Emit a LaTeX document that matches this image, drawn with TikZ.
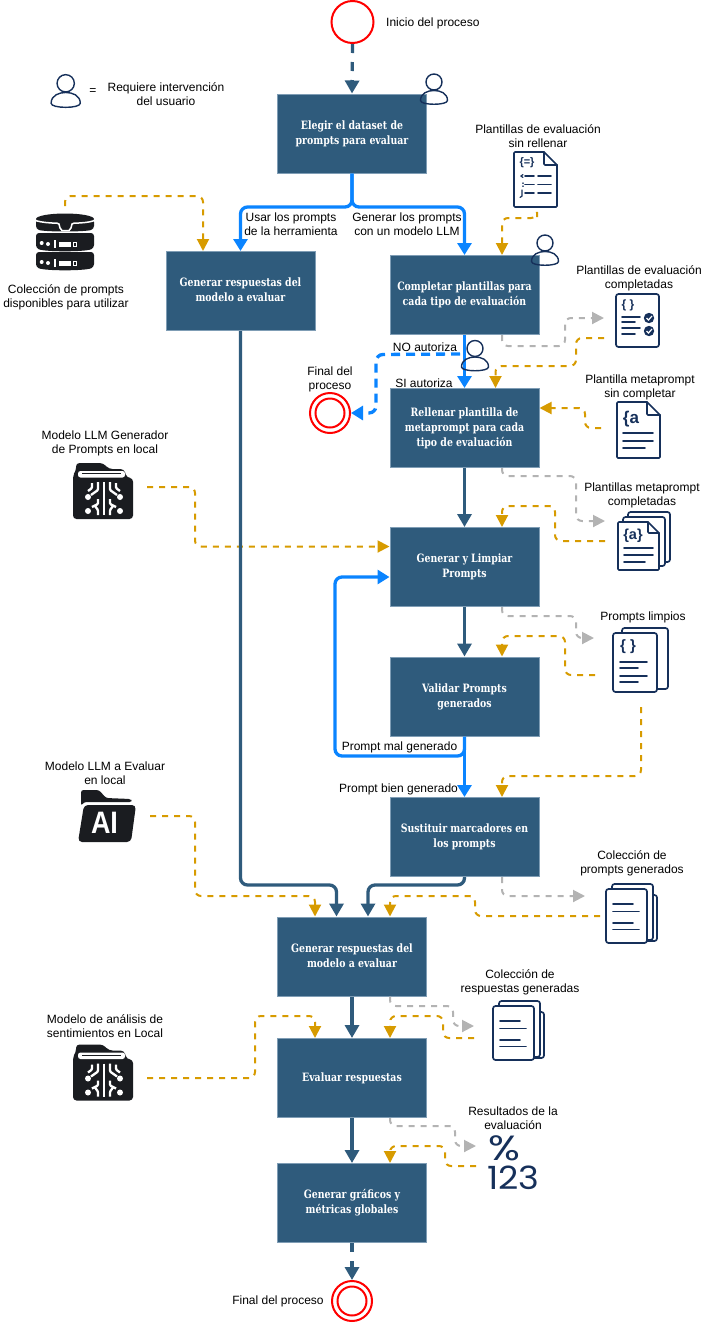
\documentclass[tikz,border=0pt]{standalone}
\usepackage{fontspec}
\setmainfont{Liberation Sans}
\newfontfamily\boxfont[FakeStretch=0.905]{DejaVu Serif Condensed}
\newfontfamily\numfont{Poppins}
\usetikzlibrary{arrows.meta,calc}
\definecolor{boxfill}{HTML}{2F5B7C}
\definecolor{boxline}{HTML}{7F9DB5}
\definecolor{flowblue}{HTML}{0A84FF}
\definecolor{flowor}{HTML}{D79B00}
\definecolor{flowgr}{HTML}{B3B3B3}
\definecolor{navy}{HTML}{16305A}
\definecolor{darkicon}{HTML}{1A1C20}
\newcommand{\lowered}[1]{\raisebox{-2.5pt}{\begin{tabular}{@{}c@{}}#1\end{tabular}}}
\tikzset{
  procbox/.style={rectangle,draw=boxline,fill=boxfill,line width=1pt,minimum width=149pt,minimum height=79pt,inner sep=0pt,
    text=white,font=\boxfont\bfseries\fontsize{11.5}{15}\selectfont},
  lab/.style={align=center,inner sep=0pt,font=\fontsize{12}{14}\selectfont,text=black,yshift=-1pt},
  darkflow/.style={draw=boxfill,line width=3.3pt,rounded corners=7pt,-{Triangle[length=13pt,width=14pt]}},
  darkdash/.style={darkflow,dash pattern=on 9pt off 9pt},
  blueflow/.style={draw=flowblue,fill=none,line width=3.3pt,rounded corners=7pt,-{Triangle[length=12pt,width=14pt]}},
  bluedash/.style={blueflow,dash pattern=on 9pt off 6pt},
  orflow/.style={draw=flowor,line width=2pt,dash pattern=on 6pt off 6pt,rounded corners=6pt,-{Triangle[length=12pt,width=12pt]}},
  grflow/.style={draw=flowgr,line width=2pt,dash pattern=on 6pt off 6pt,rounded corners=6pt,-{Triangle[length=12pt,width=12pt]}},
  redring/.style={draw=red,line width=2pt,fill=white,circle,inner sep=0pt},
  iconline/.style={draw=navy,line width=1.7pt,line cap=round,line join=round,fill=white},
  iconrule/.style={draw=navy,line width=1.7pt,line cap=round},
  icontext/.style={inner sep=0pt,text=navy},
}
\newcommand{\usericon}[3]{%
 \begin{scope}[shift={(#1,#2)},scale=#3]
  \draw[draw=navy,line width=1.4pt] (0,0) circle[radius=8];
  \draw[draw=navy,line width=1.4pt] (-13.5,18.5) .. controls (-13.5,11) and (-6,8.5) .. (0,8.5) .. controls (6,8.5) and (13.5,11) .. (13.5,18.5) .. controls (13.5,23.5) and (-13.5,23.5) .. (-13.5,18.5) -- cycle;
 \end{scope}}
% x0 y0 x1 y1 fold
\newcommand{\foldpage}[5]{%
  \draw[iconline] (#1+1,#2) -- (#3-#5,#2) -- (#3,#2+#5) -- (#3,#4-1) -- (#3-1,#4) -- (#1+1,#4) -- (#1,#4-1) -- (#1,#2+1) -- cycle;
  \draw[iconline,fill=none] (#3-#5,#2) -- (#3-#5,#2+#5-1) -- (#3-#5+1,#2+#5) -- (#3,#2+#5);}
\newcommand{\flatpage}[4]{\draw[iconline,rounded corners=2.5pt] (#1,#2) rectangle (#3,#4);}
% three-page stack with four rules
\newcommand{\pagestack}[2]{%
 \begin{scope}[shift={(#1,#2)}]
  \flatpage{10}{6}{51}{52}
  \flatpage{6}{-5}{47}{51}
  \flatpage{0}{0}{41}{54}
  \draw[iconrule] (7,15) -- (27,15) (7,22.5) -- (33,22.5) (7,34) -- (27,34) (7,40.5) -- (33,40.5);
 \end{scope}}
\newcommand{\chipfolder}[2]{%
 \begin{scope}[shift={(#1,#2)}]
  \fill[darkicon,rounded corners=3.5pt] (3,0) -- (30,0) -- (36,6) -- (51,6) -- (54,15) -- (60,15) -- (60,56) -- (0,56) -- (0,12) -- (3,8) -- cycle;
  \fill[white,rounded corners=2.5pt] (5,8) rectangle (52,14.5);
  \draw[darkicon,line width=1.3pt] (9,10.8) -- (48,10.8);
  \draw[white,line width=2.6pt] (31,19) -- (31,52);
  \foreach \s in {-1,1}{
    \draw[white,line width=2.3pt,line join=round,rounded corners=1pt] (31+\s*6,19) -- (31+\s*6,27) -- (31+\s*13,32);
    \draw[white,line width=2.3pt,line join=round,rounded corners=1pt] (31+\s*12,20) -- (31+\s*12,25) -- (31+\s*16,28);
    \draw[white,line width=2.3pt,line join=round,rounded corners=1pt] (31+\s*6,36) -- (31+\s*6,41) -- (31+\s*12,44);
    \draw[white,line width=2.3pt,line join=round,rounded corners=1pt] (31+\s*6,52) -- (31+\s*6,47) -- (31+\s*9,43);
    \fill[white] (31+\s*16,34) circle[radius=3];
    \fill[white] (31+\s*16,48) circle[radius=3];
  }
 \end{scope}}
\begin{document}
\begin{tikzpicture}[x=1pt,y=-1pt]
\useasboundingbox (0,0) rectangle (704,1323);
% process boxes
\node[procbox] (B1) at (352,133.5) {\lowered{Elegir el dataset de\\prompts para evaluar}};
\node[procbox] (B2) at (240.5,291) {\lowered{Generar respuestas del\\modelo a evaluar}};
\node[procbox] (B3) at (464.5,295) {\lowered{Completar plantillas para\\cada tipo de evaluación}};
\node[procbox] (B4) at (464.5,428) {\lowered{Rellenar plantilla de\\metaprompt para cada\\tipo de evaluación}};
\node[procbox] (B5) at (464.5,567) {\lowered{Generar y Limpiar\\Prompts}};
\node[procbox] (B6) at (464.5,696.5) {\lowered{Validar Prompts\\generados}};
\node[procbox] (B7) at (464.5,837) {\lowered{Sustituir marcadores en\\los prompts}};
\node[procbox] (B8) at (352,956.5) {\lowered{Generar respuestas del\\modelo a evaluar}};
\node[procbox] (B9) at (352,1078) {\lowered{Evaluar respuestas}};
\node[procbox] (B10) at (352,1203) {\lowered{Generar gráficos y\\métricas globales}};
% events
\node[redring,minimum size=42pt] (S) at (352.5,22) {};
\node[redring,minimum size=40pt] (E1) at (330,413) {};
\node[redring,minimum size=29pt] (E1i) at (330,413) {};
\node[redring,minimum size=40pt] (E2) at (352,1301) {};
\node[redring,minimum size=29pt] (E2i) at (352,1301) {};
% free ends at the icons
\coordinate (dbOut) at (65,206);
\coordinate (tplOut) at (537,217);
\coordinate (cmpIn) at (604,318);
\coordinate (cmpOut) at (604,338);
\coordinate (metaOut) at (601,428);
\coordinate (mcIn) at (605,521);
\coordinate (mcOut) at (605,541);
\coordinate (clIn) at (594,638);
\coordinate (clOut) at (595,675);
\coordinate (clOutB) at (641,707);
\coordinate (cpIn) at (585,896);
\coordinate (cpOut) at (600,916);
\coordinate (crIn) at (474,1026);
\coordinate (crOut) at (474,1038);
\coordinate (rsIn) at (476,1146);
\coordinate (rsOut) at (476,1166);
\coordinate (llmOut) at (147,487);
\coordinate (aiOut) at (150,816);
\coordinate (senOut) at (147,1078);
\coordinate (noStart) at (460,354);
% orange flows
\draw[orflow] (dbOut) -- (65,196) -- (203,196) -- ([xshift=-37.5pt]B2.north);
\draw[orflow] (tplOut) -- (537,218) -- (502,218) -- ([xshift=37.5pt]B3.north);
\draw[orflow] (cmpOut) -- (576,338) -- (576,366) -- (495.5,366) -- ([xshift=31pt]B4.north);
\draw[orflow] (metaOut) -- (585,428) -- (585,408) -- ([yshift=20pt]B4.east);
\draw[orflow] (llmOut) -- (195,487) -- (195,546.5) -- ([yshift=20.5pt]B5.west);
\draw[orflow] (mcOut) -- (555,541) -- (555,506) -- (502,506) -- ([xshift=37.5pt]B5.north);
\draw[orflow] (clOut) -- (565,675) -- (565,636) -- (502,636) -- ([xshift=37.5pt]B6.north);
\draw[orflow] (clOutB) -- (641,776) -- (502,776) -- ([xshift=37.5pt]B7.north);
\draw[orflow] (aiOut) -- (195,816) -- (195,896) -- (315,896) -- ([xshift=-37pt]B8.north);
\draw[orflow] (cpOut) -- (475,916) -- (475,896) -- (390,896) -- ([xshift=38pt]B8.north);
\draw[orflow] (crOut) -- (443,1038) -- (443,1016) -- (390,1016) -- ([xshift=38pt]B9.north);
\draw[orflow] (senOut) -- (255,1078) -- (255,1016) -- (315,1016) -- ([xshift=-37pt]B9.north);
\draw[orflow] (rsOut) -- (445,1166) -- (445,1146) -- (390,1146) -- ([xshift=38pt]B10.north);
% grey flows
\draw[grflow] ([xshift=37.5pt]B3.south) -- (502,346) -- (565,346) -- (565,318) -- (cmpIn);
\draw[grflow] ([xshift=37.5pt]B4.south) -- (502,476) -- (576,476) -- (576,521) -- (mcIn);
\draw[grflow] ([xshift=37.5pt]B5.south) -- (502,616) -- (576,616) -- (576,638) -- (clIn);
\draw[grflow] ([xshift=37.5pt]B7.south) -- (502,896) -- (cpIn);
\draw[grflow] ([xshift=38pt]B8.south) -- (390,1006) -- (453,1006) -- (453,1026) -- (crIn);
\draw[grflow] ([xshift=38pt]B9.south) -- (390,1126) -- (455,1126) -- (455,1146) -- (rsIn);
% dark flows
\draw[darkdash] (S.south) -- (B1.north);
\draw[darkdash] (B10.south) -- (E2.north);
\draw[darkflow] (B4.south) -- (B5.north);
\draw[darkflow] (B5.south) -- (B6.north);
\draw[darkflow] (B2.south) -- (240.5,885) -- (336.5,885) -- ([xshift=-15.5pt]B8.north);
\draw[darkflow] (B7.south) -- (464.5,885) -- (368,885) -- ([xshift=16pt]B8.north);
\draw[darkflow] (B8.south) -- (B9.north);
\draw[darkflow] (B9.south) -- (B10.north);
% blue flows
\draw[blueflow] (B1.south) -- (352,207) -- (240.5,207) -- (B2.north);
\draw[blueflow] (B1.south) -- (352,207) -- (464.5,207) -- (B3.north);
\draw[blueflow] (B3.south) -- (B4.north);
\draw[blueflow] (B6.south) -- (B7.north);
\draw[blueflow] (B6.south) -- (464.5,756) -- (335,756) -- (335,577) -- ([yshift=-10pt]B5.west);
\draw[bluedash] (noStart) -- (376,354.5) -- (376,413) -- (E1.east);
% labels
\node[lab,anchor=west] (tS) at (386,22) {Inicio del proceso};
\node[lab] (tEq) at (93,91) {=};
\node[lab] (tReq) at (166,93) {Requiere intervención\\del usuario};
\node[lab] (tDB) at (66,296) {Colección de prompts\\disponibles para utilizar};
\node[lab] (tA) at (291,223) {Usar los prompts\\de la herramienta};
\node[lab] (tB) at (407,223) {Generar los prompts\\con un modelo LLM};
\node[lab] (tTpl) at (538,135) {Plantillas de evaluación\\sin rellenar};
\node[lab] (tCmp) at (639,277) {Plantillas de evaluación\\completadas};
\node[lab] (tNo) at (425,346) {NO autoriza};
\node[lab] (tSi) at (424,382) {SI autoriza};
\node[lab] (tE1) at (330,378) {Final del\\proceso};
\node[lab] (tMeta) at (640,386) {Plantilla metaprompt\\sin completar};
\node[lab] (tMC) at (642,494) {Plantillas metaprompt\\completadas};
\node[lab] (tLLM) at (105,442) {Modelo LLM Generador\\de Prompts en local};
\node[lab] (tCL) at (643,616) {Prompts limpios};
\node[lab] (tMal) at (399.5,746.5) {Prompt mal generado};
\node[lab] (tBien) at (398.5,788) {Prompt bien generado};
\node[lab] (tAI) at (105,772) {Modelo LLM a Evaluar\\en local};
\node[lab] (tCP) at (632,862) {Colección de\\prompts generados};
\node[lab] (tCR) at (520,981) {Colección de\\respuestas generadas};
\node[lab] (tSen) at (105,1025) {Modelo de análisis de\\sentimientos en Local};
\node[lab] (tRes) at (513,1117) {Resultados de la\\evaluación};
\node[lab] (tE2) at (278,1300) {Final del proceso};
% user icons
\usericon{65.7}{83.3}{1.08}
\usericon{434}{82}{1}
\usericon{545}{243}{1}
\usericon{475}{348.5}{1}
% template doc
\foldpage{514}{152}{557}{207}{13}
\node[icontext,font=\bfseries\fontsize{11}{11}\selectfont] (i1) at (527,163) {\{=\}};
\foreach \yy in {176,184.5,193}{
  \draw[iconrule] (525,\yy) -- (534,\yy);
  \draw[iconrule] (538,\yy) -- (551,\yy);}
\draw[iconrule,line width=1.2pt] (523,174.5) -- (521,176) -- (523,177.5);
\draw[iconrule,line width=1.2pt] (523,183) -- (523,183.3) (523,186) -- (523,186.3);
\draw[iconrule,line width=1.2pt] (522,190) -- (522,196) -- (520,197.5);
% completed doc
\flatpage{616}{294}{659}{347}
\node[icontext,font=\bfseries\fontsize{12}{12}\selectfont] (i2) at (628,305) {\{ \}};
\draw[iconrule] (622,317) -- (640,317) (622,322) -- (635,322) (622,328) -- (640,328) (622,334) -- (635,334);
\foreach \yy in {318,331}{
  \fill[navy] (649,\yy) circle[radius=5.2];
  \draw[white,line width=1.2pt] (646.5,\yy) -- (648.5,\yy+2) -- (652,\yy-2);}
% metaprompt doc
\foldpage{617}{402}{660}{458}{13}
\node[icontext,font=\bfseries\fontsize{17}{17}\selectfont] (i3) at (631,419) {\{a};
\draw[iconrule] (623,433) -- (653,433) (623,441) -- (653,441) (623,448) -- (645,448);
% filled metaprompt stack
\flatpage{628}{512}{670}{562}
\flatpage{623}{517}{665}{566}
\foldpage{618}{522}{659}{570}{11}
\node[icontext,font=\bfseries\fontsize{14.5}{15}\selectfont] (i4) at (633,536) {\{a\}};
\draw[iconrule] (624,548) -- (653,548) (624,555) -- (653,555) (624,562) -- (645,562);
% clean prompts stack
\flatpage{622}{628}{668}{689}
\flatpage{613}{633}{657}{692}
\node[icontext,font=\bfseries\fontsize{15}{15}\selectfont] (i5) at (628,647) {\{ \}};
\draw[iconrule] (620,662) -- (647,662) (620,668) -- (638,668) (620,676) -- (647,676) (620,682) -- (638,682);
% generated prompts and answers stacks
\pagestack{606}{889}
\pagestack{493}{1006}
% results
\node[icontext,xscale=1.2,font=\numfont\fontsize{35}{35}\selectfont] (i6) at (504.5,1148.5) {\%};
\node[icontext,xscale=1.1,font=\numfont\fontsize{32}{32}\selectfont] (i7) at (513.5,1178) {123};
% database
\fill[darkicon] (65,219) ellipse[x radius=29,y radius=5.5];
\fill[darkicon,rounded corners=3pt] (36,219) -- (94,219) -- (94,229) .. controls (85,232) and (45,232) .. (36,229) -- cycle;
\draw[white,line width=1.5pt] (36,220.7) .. controls (42,222.5) and (50,223) .. (57,223.2) -- (59,224) -- (60,228) -- (62,230.5) -- (69,230.5) -- (71,228) -- (72,224) -- (74,223.2) .. controls (81,223) and (89,222.5) .. (94,220.7);
\foreach \yy in {233,252}{
  \fill[darkicon,rounded corners=3pt] (36,\yy) -- (94,\yy) -- (94,\yy+15) .. controls (85,\yy+19) and (45,\yy+19) .. (36,\yy+15) -- cycle;
  \fill[white] (41.7,\yy+10) circle[radius=2] (48,\yy+11) circle[radius=2];
  \fill[white] (54,\yy+7) rectangle (56,\yy+15);
  \fill[white] (59,\yy+9) rectangle (71,\yy+14);
  \draw[white,line width=.8pt] (73.5,\yy+9.5) rectangle (76.5,\yy+13.5);}
% folders
\chipfolder{73}{463}
\chipfolder{73}{1044.5}
\begin{scope}[shift={(78,790)}]
  \fill[darkicon,rounded corners=2.5pt] (3,0) -- (21,0) -- (28,8) -- (53,9) -- (54,12) -- (6,12) -- (3,16) -- cycle;
  \fill[darkicon,rounded corners=4pt] (6,15) -- (58,15) -- (53,52) -- (0,52) -- cycle;
  \node[inner sep=0pt,text=white,xscale=.87,font=\bfseries\fontsize{31}{31}\selectfont] (i8) at (26.5,32.5) {AI};
\end{scope}
\end{tikzpicture}
\end{document}
